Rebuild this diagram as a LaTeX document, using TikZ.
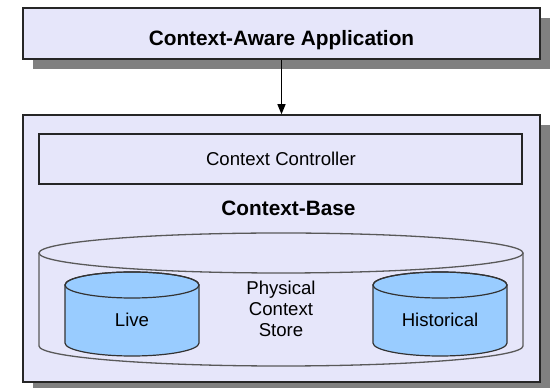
\documentclass[tikz,border=0pt]{standalone}
\usepackage{fontspec}
\setmainfont{Liberation Sans}
\usetikzlibrary{arrows.meta, positioning, shadows}

\definecolor{paneFill}{RGB}{230,230,250}
\definecolor{drumFill}{RGB}{153,204,255}
\definecolor{shadeGray}{RGB}{128,128,128}

\begin{document}
\begin{tikzpicture}[x=1pt, y=1pt]

  \tikzset{
    panel/.style={draw=black!85, line width=1.5pt, fill=paneFill, drop shadow={shadow xshift=10pt, shadow yshift=-10pt, fill=shadeGray, opacity=1}},
    innerBox/.style={draw=black!85, line width=1.4pt, fill=paneFill},
    storeLine/.style={draw=black!65, line width=1.3pt},
    drum/.style={draw=black!80, line width=1.2pt, fill=drumFill},
    bigText/.style={font=\fontsize{20.8}{25}\selectfont\bfseries, anchor=base, inner sep=0pt},
    smallText/.style={font=\fontsize{18.6}{21}\selectfont, anchor=base, inner sep=0pt, align=center}
  }

  \useasboundingbox (0,0) rectangle (552,388);

  % Boxes
  \node[panel, minimum width=517, minimum height=51] (app) at (281.5,354.5) {};
  \node[panel, minimum width=517, minimum height=267] (base) at (281.5,139.5) {};
  \node[innerBox, minimum width=483, minimum height=50] (ctrl) at (280.5,229) {};

  % Labels
  \node[bigText] (appText) at (281.5,342) {Context-Aware Application};
  \node[smallText] (ctrlText) at (281,222) {Context Controller};
  \node[bigText] (baseText) at (288.5,172) {Context-Base};

  % Physical store
  \draw[storeLine] (39,135) -- (39,42) arc[start angle=180, end angle=360, x radius=242, y radius=20] -- (523,135);
  \draw[storeLine] (281,135) ellipse [x radius=242, y radius=20];
  \node[smallText, anchor=center] (store) at (281,79) {Physical\\Context\\Store};

  % Drums
  \foreach \cx/\name/\txt in {132/live/Live, 440/hist/Historical} {
    \filldraw[drum] (\cx-67,103) -- (\cx-67,45) arc[start angle=180, end angle=360, x radius=67, y radius=13] -- (\cx+67,103) arc[start angle=0, end angle=180, x radius=67, y radius=13] -- cycle;
    \draw[drum, fill=none] (\cx,103) ellipse [x radius=67, y radius=13];
    \node[smallText] (\name) at (\cx,61) {\txt};
  }

  % Connector
  \draw[-{Triangle[width=8pt, length=10pt]}, line width=1.2pt] (app.south) -- (base.north);

\end{tikzpicture}
\end{document}
